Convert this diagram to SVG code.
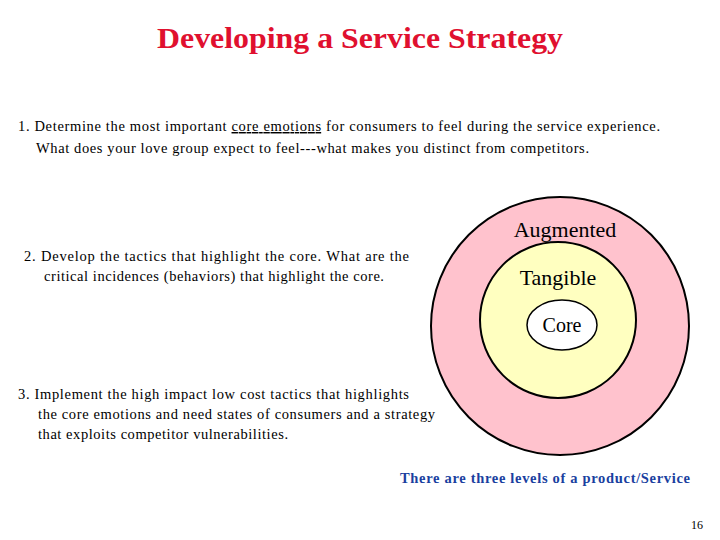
<svg xmlns="http://www.w3.org/2000/svg" width="720" height="540" viewBox="0 0 720 540">
<style>
.t{font-family:"Liberation Serif",serif;font-size:14.5px;fill:#000}
.c{font-family:"Liberation Serif",serif;fill:#000;text-anchor:middle}
</style>
<rect width="720" height="540" fill="#fff"/>
<text x="157" y="48" textLength="406" lengthAdjust="spacingAndGlyphs" font-family="Liberation Serif,serif" font-size="30" font-weight="bold" fill="#e0102f">Developing a Service Strategy</text>
<text class="t" x="18" y="131" textLength="642">1.  Determine the most important <tspan text-decoration="underline">core emotions</tspan> for consumers to feel during the service experience.</text>
<text class="t" x="36" y="153" textLength="553">What does your love group expect to feel---what makes you distinct from competitors.</text>
<text class="t" x="24" y="261" textLength="385">2.  Develop  the tactics that highlight the core.  What are the</text>
<text class="t" x="44" y="281" textLength="340">critical incidences (behaviors) that highlight the core.</text>
<text class="t" x="18" y="399" textLength="391">3.  Implement the high impact low cost tactics that highlights</text>
<text class="t" x="38" y="419" textLength="397">the core emotions and need states of consumers and a strategy</text>
<text class="t" x="38" y="439" textLength="250">that exploits competitor vulnerabilities.</text>
<g id="augmented"><circle cx="560" cy="326" r="129" fill="#ffc2cd" stroke="#000" stroke-width="2"/><text class="c" x="565" y="237" font-size="22">Augmented</text></g>
<g id="tangible"><circle cx="558" cy="320" r="78" fill="#ffffc0" stroke="#000" stroke-width="2"/><text class="c" x="558" y="285" font-size="22">Tangible</text></g>
<g id="core"><ellipse cx="562" cy="325" rx="35" ry="25" fill="#fff" stroke="#000" stroke-width="1.5"/><text class="c" x="562" y="332" font-size="20">Core</text></g>
<g id="connectors"/>
<text x="400" y="483" textLength="290" font-family="Liberation Serif,serif" font-size="14.5" font-weight="bold" fill="#1a3fa0">There are three levels of a product/Service</text>
<text x="703" y="529" text-anchor="end" font-family="Liberation Serif,serif" font-size="12" fill="#000">16</text>
</svg>
